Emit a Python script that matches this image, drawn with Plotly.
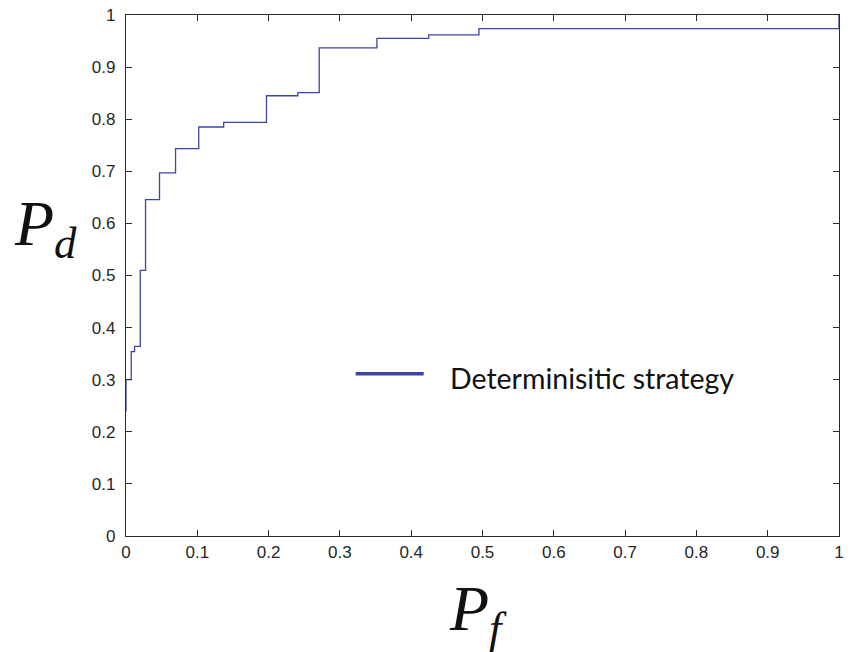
import plotly.graph_objects as go

# Step points (start of each horizontal run)
pf = [0.0, 0.0, 0.0073, 0.012, 0.020, 0.0274, 0.047, 0.0695, 0.102, 0.137,
      0.197, 0.241, 0.271, 0.352, 0.4246, 0.495, 1.0]
pd = [0.239, 0.300, 0.354, 0.364, 0.510, 0.6455, 0.697, 0.7435, 0.785, 0.794,
      0.845, 0.851, 0.937, 0.955, 0.962, 0.974, 1.0]

tick_vals = [0, 0.1, 0.2, 0.3, 0.4, 0.5, 0.6, 0.7, 0.8, 0.9, 1]
tick_text = ["0", "0.1", "0.2", "0.3", "0.4", "0.5", "0.6", "0.7", "0.8", "0.9", "1"]

series_name = "Determinisitic strategy"
line_color = "#3d44a5"

fig = go.Figure()
fig.add_trace(go.Scatter(
    x=pf, y=pd, mode="lines", line=dict(shape="hv", color=line_color, width=1.3),
    name=series_name, showlegend=False, hoverinfo="skip"))

axis_common = dict(
    range=[0, 1], showgrid=False, zeroline=False, showline=True, mirror="ticks",
    linecolor="#2b2b2b", linewidth=1.3, ticks="inside", ticklen=6, tickwidth=1.2,
    tickcolor="#2b2b2b", tickvals=tick_vals, ticktext=tick_text, automargin=False,
    tickfont=dict(family="Liberation Sans, Arial", size=17, color="#262626"),
)
fig.update_xaxes(**axis_common)
fig.update_yaxes(**axis_common, ticklabelstandoff=6)

X0, X1, Y0, Y1 = 126.5, 839.0, 536.0, 15.5
def px(x):
    return (x - X0) / (X1 - X0)
def py(y):
    return (Y0 - y) / (Y0 - Y1)

fig.add_shape(type="line", xref="paper", yref="paper",
              x0=px(356), x1=px(424), y0=py(374), y1=py(374),
              line=dict(color=line_color, width=3.5))

serif = "Liberation Serif, Times New Roman, serif"
fig.update_layout(
    width=851, height=652,
    margin=dict(l=126, r=12, t=15, b=116, autoexpand=False),
    paper_bgcolor="white", plot_bgcolor="white",
    annotations=[
        dict(text=series_name, xref="paper", yref="paper", x=px(448), y=py(378),
             xanchor="left", yanchor="middle", showarrow=False,
             font=dict(family="Lato, Open Sans, sans-serif", size=28.5, color="#111111")),
        dict(text="<i>P</i><sub><i>d</i></sub>", xref="paper", yref="paper",
             x=px(46), y=py(228), xanchor="center", yanchor="middle", showarrow=False,
             font=dict(family=serif, size=64, color="#111111")),
        dict(text="<i>P</i><sub><i>f</i></sub>", xref="paper", yref="paper",
             x=px(478), y=py(613), xanchor="center", yanchor="middle", showarrow=False,
             font=dict(family=serif, size=64, color="#111111")),
    ],
)

fig.write_html("out.html")
